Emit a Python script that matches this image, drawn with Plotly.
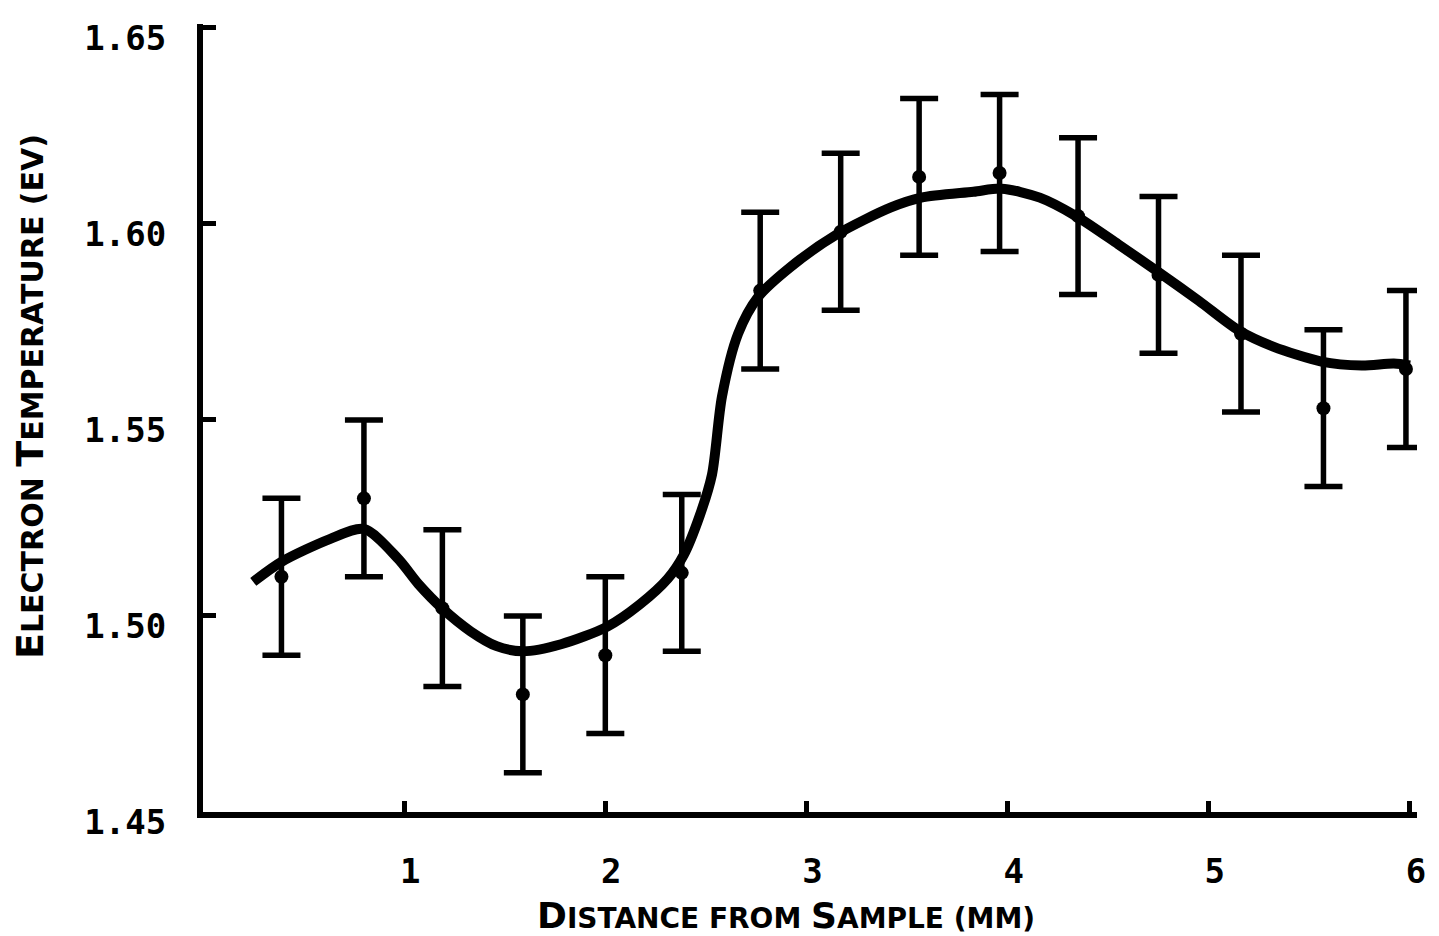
import plotly.graph_objects as go

# Measured points (distance in mm, electron temperature in eV) with symmetric error
dist_mm = [0.39, 0.80, 1.19, 1.59, 2.00, 2.38, 2.77, 3.17, 3.56, 3.96, 4.35, 4.75, 5.16, 5.57, 5.98]
temp_ev = [1.510, 1.530, 1.502, 1.480, 1.490, 1.511, 1.583, 1.598, 1.612, 1.613, 1.602, 1.587, 1.572, 1.553, 1.563]
temp_err = [0.020] * 15

# Hand-drawn smooth fit curve
curve_x = [0.25, 0.39, 0.63, 0.80, 0.97, 1.07, 1.19, 1.33, 1.46, 1.59, 1.78, 2.01, 2.17, 2.31,
           2.39, 2.47, 2.53, 2.58, 2.66, 2.76, 2.92, 3.15, 3.42, 3.57, 3.83, 3.97, 4.16, 4.34,
           4.55, 4.75, 4.95, 5.15, 5.32, 5.56, 5.76, 5.92, 6.00]
curve_y = [1.5087, 1.5138, 1.5196, 1.5222, 1.5146, 1.5082, 1.5019, 1.4961, 1.4923, 1.4910,
           1.4928, 1.4973, 1.5029, 1.5095, 1.5156, 1.5257, 1.5360, 1.5560, 1.5720, 1.5814,
           1.5890, 1.5973, 1.6042, 1.6067, 1.6082, 1.6090, 1.6067, 1.6020, 1.5948, 1.5877,
           1.5804, 1.5728, 1.5687, 1.5649, 1.5639, 1.5644, 1.5639]

x_ticks = [1, 2, 3, 4, 5, 6]
x_tick_labels = ["1", "2", "3", "4", "5", "6"]
y_ticks = [1.45, 1.50, 1.55, 1.60, 1.65]
y_tick_labels = ["1.45", "1.50", "1.55", "1.60", "1.65"]

NUM_FONT = "DejaVu Sans Mono"
TITLE_FONT = "DejaVu Sans"

fig = go.Figure()

fig.add_trace(go.Scatter(
    x=curve_x, y=curve_y, mode="lines",
    line=dict(color="black", width=10, shape="spline", smoothing=0.8),
    hoverinfo="skip", showlegend=False,
))

fig.add_trace(go.Scatter(
    x=dist_mm, y=temp_ev, mode="markers",
    marker=dict(color="black", size=14, symbol="circle"),
    error_y=dict(type="data", array=temp_err, symmetric=True, color="black",
                 thickness=5.5, width=19),
    showlegend=False,
))

def big(ch, size):
    return "<span style='font-size:%dpx'>%s</span>" % (size, ch)

y_title = big("E", 38) + "LECTRON " + big("T", 38) + "EMPERATURE (EV)"
x_title = big("D", 36) + "ISTANCE FROM " + big("S", 36) + "AMPLE (MM)"

fig.add_annotation(
    text=y_title, textangle=-90, showarrow=False,
    xref="paper", yref="paper", x=0, y=0.5, xanchor="center", yanchor="middle",
    xshift=-173, yshift=21,
    font=dict(family=TITLE_FONT, size=30, color="black", weight="bold"),
)
fig.add_annotation(
    text=x_title, showarrow=False,
    xref="paper", yref="paper", x=0.5, y=0, xanchor="center", yanchor="middle",
    xshift=-24, yshift=-103,
    font=dict(family=TITLE_FONT, size=28, color="black", weight="bold"),
)

fig.update_layout(
    width=1431, height=928,
    margin=dict(l=195, r=22, t=10, b=124),
    paper_bgcolor="white", plot_bgcolor="white",
    showlegend=False,
)

fig.update_xaxes(
    range=[0, 6.035], showgrid=False, zeroline=False,
    showline=True, linecolor="black", linewidth=6,
    ticks="inside", ticklen=11, tickwidth=5, tickcolor="black",
    tickvals=x_ticks, ticktext=x_tick_labels,
    tickfont=dict(family=NUM_FONT, size=34, color="black", weight="bold"),
    ticklabelstandoff=24, ticklabelshift=6,
)
fig.update_yaxes(
    range=[1.45, 1.651], showgrid=False, zeroline=False,
    showline=True, linecolor="black", linewidth=6,
    ticks="inside", ticklen=13, tickwidth=5, tickcolor="black",
    tickvals=y_ticks, ticktext=y_tick_labels,
    tickfont=dict(family=NUM_FONT, size=34, color="black", weight="bold"),
    ticklabelstandoff=24, ticklabelshift=10,
)

fig.write_html("out.html")
